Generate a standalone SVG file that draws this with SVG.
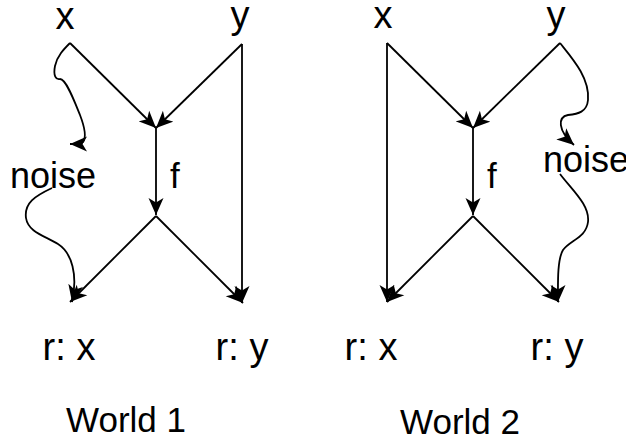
<svg xmlns="http://www.w3.org/2000/svg" width="626" height="438" viewBox="0 0 626 438">
<style>
text{font-family:"Liberation Sans",Arial,sans-serif;fill:#000;text-anchor:middle}
.lbl{font-size:38px}
.noise{font-size:36px}
.f{font-size:35px;text-anchor:start}
.world{font-size:35px}
.e{fill:none;stroke:#000;stroke-width:1.8;marker-end:url(#ah)}
</style>
<defs>
<marker id="ah" markerUnits="userSpaceOnUse" markerWidth="18" markerHeight="16" refX="17" refY="7.5" orient="auto" viewBox="0 0 18 15">
<path d="M0,0 L17,7.5 L0,15 L4.5,7.5 Z" fill="#000"/>
</marker>
</defs>
<rect width="626" height="438" fill="#fff"/>
<g id="world1">
<g id="w1-x"><text class="lbl" x="65" y="29">x</text></g>
<g id="w1-y"><text class="lbl" x="240" y="28">y</text></g>
<g id="w1-f"><text class="f" x="170" y="188">f</text></g>
<g id="w1-noise"><text class="noise" x="53" y="188">noise</text></g>
<g id="w1-rx"><text class="lbl" x="69" y="360">r: x</text></g>
<g id="w1-ry"><text class="lbl" x="242" y="360">r: y</text></g>
<g id="w1-title"><text class="world" x="126" y="432">World 1</text></g>
</g>
<g id="world2">
<g id="w2-x"><text class="lbl" x="383" y="28">x</text></g>
<g id="w2-y"><text class="lbl" x="556" y="28">y</text></g>
<g id="w2-f"><text class="f" x="487" y="188">f</text></g>
<g id="w2-noise"><text class="noise" x="586" y="172">noise</text></g>
<g id="w2-rx"><text class="lbl" x="371" y="360">r: x</text></g>
<g id="w2-ry"><text class="lbl" x="557" y="360">r: y</text></g>
<g id="w2-title"><text class="world" x="460" y="434">World 2</text></g>
</g>
<g id="connectors">
<path class="e" d="M70,43 L156,128"/>
<path class="e" d="M242,44 L156,128"/>
<path class="e" d="M156,128 L156,215"/>
<path class="e" d="M156,216 L70,302"/>
<path class="e" d="M156,216 L243,303"/>
<path class="e" d="M242,44 L242,303"/>
<path class="e" d="M70,43 C64,49 57,56 55,66 C53,76 56,80 60,79 C66,79 74,100 80,115 C85,128 86,138 83,142 C80,145 76,144 70,144"/>
<path class="e" d="M52,188 C35,196 24,203 26,218 C28,232 45,236 58,244 C72,253 78,275 72,302"/>
<path class="e" d="M387,43 L473,128"/>
<path class="e" d="M560,43 L473,128"/>
<path class="e" d="M473,128 L473,215"/>
<path class="e" d="M473,216 L387,302"/>
<path class="e" d="M473,216 L559,302"/>
<path class="e" d="M387,43 L387,302"/>
<path class="e" d="M560,43 C572,58 590,78 588,100 C587,112 578,114 568,115 C558,117 557,130 574,145"/>
<path class="e" d="M560,174 C572,190 590,205 588,222 C586,238 570,240 563,250 C557,260 558,285 558,302"/>
</g>
</svg>
